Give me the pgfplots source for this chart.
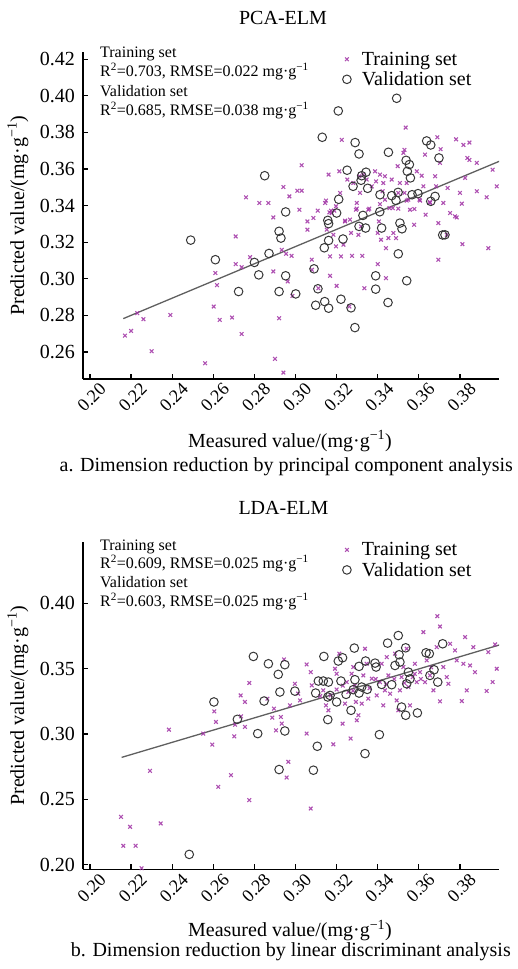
\documentclass[border=0pt]{standalone}
\usepackage{pgfplots}
\pgfplotsset{compat=1.18}
\usepackage{pgfplotstable}
\usepackage{fontspec}
\setmainfont{Liberation Serif}

\definecolor{trainc}{RGB}{160,50,165}
\definecolor{validc}{RGB}{55,55,55}
\definecolor{fitc}{RGB}{95,95,95}
\newcommand\fs[1]{\fontsize{#1bp}{#1bp}\selectfont}

% ---------------- PCA-ELM ----------------
\pgfplotstableread{
x y
0.2170 0.2689
0.2200 0.2715
0.2230 0.2812
0.2260 0.2779
0.2300 0.2604
0.2391 0.2802
0.2560 0.2538
0.2602 0.2848
0.2610 0.3031
0.2618 0.2965
0.2631 0.2775
0.2691 0.2788
0.2709 0.3231
0.2709 0.3080
0.2738 0.3063
0.2738 0.2698
0.2759 0.3445
0.2779 0.3118
0.2824 0.3414
0.2868 0.3414
0.2892 0.3335
0.2892 0.3040
0.2900 0.2562
0.2920 0.2784
0.2933 0.3158
0.2941 0.3501
0.2941 0.2487
0.2954 0.3136
0.2962 0.2985
0.2970 0.3450
0.2981 0.3125
0.2985 0.2906
0.3009 0.3481
0.3019 0.3377
0.3030 0.3620
0.3030 0.3481
0.3058 0.3313
0.3058 0.3268
0.3079 0.3104
0.3080 0.3049
0.3087 0.3332
0.3108 0.3372
0.3111 0.2948
0.3144 0.3414
0.3148 0.3427
0.3152 0.3268
0.3161 0.3569
0.3165 0.3363
0.3168 0.3122
0.3168 0.3016
0.3173 0.3372
0.3176 0.3359
0.3184 0.3240
0.3189 0.3372
0.3197 0.3177
0.3197 0.3396
0.3200 0.2961
0.3213 0.3587
0.3217 0.3469
0.3221 0.3122
0.3233 0.3186
0.3241 0.3313
0.3241 0.3317
0.3252 0.3542
0.3262 0.2848
0.3265 0.3323
0.3270 0.3250
0.3275 0.3125
0.3281 0.3523
0.3294 0.3377
0.3298 0.3383
0.3298 0.3414
0.3306 0.3240
0.3311 0.3560
0.3314 0.3469
0.3319 0.3286
0.3325 0.3125
0.3330 0.3569
0.3335 0.2948
0.3346 0.3542
0.3354 0.3377
0.3359 0.3383
0.3371 0.3505
0.3387 0.3587
0.3392 0.3532
0.3400 0.3250
0.3400 0.3080
0.3406 0.3313
0.3411 0.3569
0.3411 0.3408
0.3416 0.3213
0.3424 0.3478
0.3427 0.3523
0.3435 0.3560
0.3435 0.3432
0.3440 0.3003
0.3440 0.3167
0.3452 0.3222
0.3457 0.3386
0.3468 0.3542
0.3473 0.3386
0.3476 0.3250
0.3489 0.3222
0.3497 0.3615
0.3500 0.3469
0.3500 0.3383
0.3508 0.3523
0.3525 0.3688
0.3530 0.3469
0.3541 0.3523
0.3541 0.3427
0.3549 0.3432
0.3557 0.3377
0.3577 0.3295
0.3578 0.3381
0.3590 0.3587
0.3603 0.3432
0.3606 0.3427
0.3614 0.3563
0.3622 0.3505
0.3630 0.3678
0.3633 0.3350
0.3654 0.3414
0.3654 0.3419
0.3679 0.3560
0.3684 0.3505
0.3695 0.3104
0.3695 0.3304
0.3703 0.3633
0.3719 0.3414
0.3736 0.3240
0.3740 0.3496
0.3752 0.3359
0.3776 0.3341
0.3784 0.3335
0.3800 0.3469
0.3809 0.3410
0.3812 0.3189
0.3825 0.3551
0.3836 0.3660
0.3882 0.3633
0.3882 0.3478
0.3930 0.3445
0.3938 0.3167
0.3959 0.3596
0.3979 0.3505
0.3536 0.3826
0.3225 0.3759
0.3530 0.3704
0.3690 0.3773
0.3781 0.3762
0.3817 0.3731
0.3846 0.3744
0.3706 0.3708
0.3846 0.3649
}\pcatrain

\pgfplotstableread{
x y
0.2490 0.3211
0.2610 0.3104
0.2723 0.2930
0.2800 0.3089
0.2821 0.3021
0.2850 0.3563
0.2871 0.3138
0.2920 0.2930
0.2920 0.3259
0.2929 0.3222
0.2952 0.3016
0.2952 0.3365
0.3001 0.2917
0.3090 0.3054
0.3098 0.2855
0.3109 0.2945
0.3142 0.2875
0.3140 0.3169
0.3157 0.3319
0.3161 0.3301
0.3161 0.3209
0.3161 0.2839
0.3200 0.3359
0.3210 0.3434
0.3221 0.2888
0.3231 0.3217
0.3251 0.3593
0.3270 0.2841
0.3280 0.3505
0.3289 0.2733
0.3309 0.3682
0.3309 0.3286
0.3319 0.3538
0.3322 0.3563
0.3328 0.3346
0.3341 0.3277
0.3343 0.3582
0.3351 0.3494
0.3390 0.3016
0.3390 0.2943
0.3410 0.3366
0.3411 0.3459
0.3419 0.3277
0.3450 0.2870
0.3452 0.3691
0.3468 0.3454
0.3489 0.3428
0.3499 0.3472
0.3500 0.3136
0.3508 0.3304
0.3518 0.3273
0.3538 0.3647
0.3541 0.2989
0.3544 0.3587
0.3554 0.3624
0.3559 0.3551
0.3567 0.3459
0.3596 0.3465
0.3658 0.3423
0.3679 0.3450
0.3698 0.3660
0.3716 0.3239
0.3727 0.3240
0.3492 0.3986
0.3208 0.3917
0.3130 0.3773
0.3290 0.3744
0.3638 0.3753
0.3658 0.3731
}\pcavalid

% ---------------- LDA-ELM ----------------
\pgfplotstableread{
x y
0.2151 0.2366
0.2195 0.2290
0.2162 0.2145
0.2222 0.2145
0.2344 0.2316
0.2251 0.1973
0.2292 0.2718
0.2384 0.3033
0.2551 0.3003
0.2595 0.2919
0.2605 0.3173
0.2613 0.3092
0.2624 0.2596
0.2686 0.2685
0.2702 0.2982
0.2706 0.3071
0.2733 0.3295
0.2735 0.3135
0.2754 0.3245
0.2754 0.3054
0.2775 0.3390
0.2775 0.2494
0.2863 0.3270
0.2887 0.3125
0.2895 0.3194
0.2905 0.3028
0.2929 0.3130
0.2933 0.3079
0.2944 0.3570
0.2957 0.2667
0.2965 0.2787
0.2973 0.3219
0.2997 0.3384
0.3013 0.3308
0.3022 0.3257
0.3054 0.3003
0.3054 0.3532
0.3074 0.2430
0.3074 0.3473
0.3079 0.3372
0.3120 0.3290
0.3135 0.3334
0.3148 0.3219
0.3160 0.3181
0.3171 0.3295
0.3184 0.2921
0.3192 0.3499
0.3200 0.3461
0.3200 0.3340
0.3213 0.3614
0.3229 0.3079
0.3230 0.3370
0.3241 0.3232
0.3249 0.3397
0.3257 0.3321
0.3268 0.2965
0.3273 0.3461
0.3280 0.3330
0.3281 0.3512
0.3289 0.3372
0.3294 0.3245
0.3298 0.3105
0.3306 0.3143
0.3322 0.3232
0.3330 0.3448
0.3338 0.3652
0.3346 0.3537
0.3354 0.3270
0.3360 0.3350
0.3371 0.3423
0.3390 0.3420
0.3395 0.3295
0.3411 0.3397
0.3419 0.3537
0.3427 0.3219
0.3435 0.3334
0.3440 0.3380
0.3444 0.3588
0.3452 0.3448
0.3460 0.3308
0.3480 0.3420
0.3484 0.3614
0.3492 0.3257
0.3500 0.3181
0.3508 0.3334
0.3516 0.3435
0.3525 0.3512
0.3530 0.3390
0.3541 0.3652
0.3549 0.3359
0.3557 0.3219
0.3570 0.3435
0.3580 0.3460
0.3581 0.3537
0.3590 0.3397
0.3606 0.3473
0.3610 0.3420
0.3622 0.3779
0.3630 0.3397
0.3638 0.3563
0.3654 0.3448
0.3660 0.3510
0.3671 0.3334
0.3687 0.3664
0.3703 0.3822
0.3690 0.3901
0.3703 0.3250
0.3719 0.3512
0.3736 0.3435
0.3744 0.3384
0.3752 0.3690
0.3776 0.3639
0.3784 0.3563
0.3809 0.3252
0.3817 0.3537
0.3825 0.3741
0.3833 0.3334
0.3849 0.3524
0.3865 0.3664
0.3873 0.3473
0.3930 0.3329
0.3938 0.3626
0.3959 0.3397
0.3971 0.3685
0.3979 0.3499
}\ldatrain

\pgfplotstableread{
x y
0.2483 0.2079
0.2603 0.3245
0.2717 0.3112
0.2795 0.3593
0.2816 0.3003
0.2847 0.3252
0.2868 0.3537
0.2916 0.3456
0.2920 0.2728
0.2924 0.3321
0.2948 0.3530
0.2948 0.3023
0.2997 0.3328
0.3087 0.2723
0.3098 0.3313
0.3106 0.2906
0.3111 0.3405
0.3135 0.3405
0.3138 0.3593
0.3157 0.3110
0.3157 0.3283
0.3160 0.3397
0.3168 0.3295
0.3200 0.3245
0.3208 0.3558
0.3221 0.3405
0.3229 0.3583
0.3246 0.3303
0.3270 0.3181
0.3281 0.3339
0.3286 0.3657
0.3289 0.3415
0.3309 0.3313
0.3309 0.3517
0.3322 0.3359
0.3338 0.2850
0.3341 0.3558
0.3349 0.3341
0.3387 0.3542
0.3392 0.3512
0.3408 0.2995
0.3419 0.3379
0.3448 0.3695
0.3468 0.3377
0.3484 0.3524
0.3500 0.3753
0.3504 0.3606
0.3508 0.3550
0.3516 0.3206
0.3536 0.3143
0.3541 0.3384
0.3549 0.3473
0.3557 0.3422
0.3536 0.3659
0.3593 0.3161
0.3635 0.3621
0.3651 0.3614
0.3654 0.3448
0.3674 0.3491
0.3692 0.3397
0.3716 0.3690
}\ldavalid

\pgfplotsset{
  panel/.style={
    scale only axis, width=416bp, height=327bp,
    anchor=south west,
    axis x line*=bottom, axis y line*=left,
    axis line style={line width=1.5bp, black},
    tick style={line width=1.2bp, black},
    major tick length=5bp,
    tick align=inside,
    xmin=0.1966, xmax=0.3990,
    xtick={0.20,0.22,0.24,0.26,0.28,0.30,0.32,0.34,0.36,0.38},
    xticklabel={\pgfmathprintnumber[fixed,fixed zerofill,precision=2,assume math mode=true]{\tick}},
    yticklabel={\pgfmathprintnumber[fixed,fixed zerofill,precision=2,assume math mode=true]{\tick}},
    xticklabel style={font=\fs{18}, rotate=45, anchor=north east, inner sep=0pt, yshift=-8bp, xshift=4bp},
    yticklabel style={font=\fs{20}, anchor=east, inner sep=0pt, xshift=-8bp},
    legend style={draw=none, fill=white, inner sep=3bp, font=\fs{20},
      anchor=north west, row sep=5bp,
      nodes={inner sep=0pt},
      /tikz/every odd column/.append style={column sep=9bp}},
    legend cell align=left,
    legend image code/.code={%
      \path[draw=none, fill=none] (-6bp,-3bp) rectangle (6bp,3bp);
      \draw[##1] plot coordinates {(0bp,0bp)};},
  },
  train/.style={only marks, mark=x, mark size=2.6bp,
    mark options={draw=trainc, line width=1.1bp, draw opacity=0.85}},
  valid/.style={only marks, mark=o, mark size=4.3bp,
    mark options={draw=validc, line width=1bp, fill=none}},
  fit/.style={fitc, line width=1.3bp, no marks},
}

\begin{document}
\begin{tikzpicture}
\useasboundingbox (0bp,0bp) rectangle (518bp,-969bp);

% ----- panel a -----
\begin{axis}[panel, at={(83bp,-379bp)},
  ymin=0.2452, ymax=0.4239,
  ytick={0.26,0.28,0.30,0.32,0.34,0.36,0.38,0.40,0.42},
  legend style={at={(axis description cs:0.6123,1.0101)}}]
\addplot[train] table {\pcatrain};
\addplot[valid] table {\pcavalid};
\addplot[fit] coordinates {(0.2162,0.2782) (0.3992,0.3642)};
\legend{Training set, Validation set}
\end{axis}

\node[anchor=base, font=\fs{20}] at (283bp,-24bp) {PCA-ELM};
\node[anchor=base west, inner sep=0pt, font=\fs{16}] at (100bp,-57.7bp) {Training set};
\node[anchor=base west, inner sep=0pt, font=\fs{16}] at (100bp,-76.7bp) {R\textsuperscript{2}=0.703, RMSE=0.022 mg·g\textsuperscript{−1}};
\node[anchor=base west, inner sep=0pt, font=\fs{16}] at (100bp,-96.7bp) {Validation set};
\node[anchor=base west, inner sep=0pt, font=\fs{16}] at (100bp,-115.7bp) {R\textsuperscript{2}=0.685, RMSE=0.038 mg·g\textsuperscript{−1}};
\node[rotate=90, font=\fs{20}] at (18bp,-215.5bp) {Predicted value/(mg·g\textsuperscript{−1})};
\node[anchor=base, font=\fs{20}] at (290bp,-447.3bp) {Measured value/(mg·g\textsuperscript{−1})};
\node[anchor=base, font=\fs{20}] at (286.3bp,-471.7bp) {a. Dimension reduction by principal component analysis};

% ----- panel b -----
\begin{axis}[panel, at={(83bp,-869.3bp)},
  ymin=0.1965, ymax=0.4466,
  ytick={0.20,0.25,0.30,0.35,0.40},
  legend style={at={(axis description cs:0.6123,1.0092)}}]
\addplot[train] table {\ldatrain};
\addplot[valid] table {\ldavalid};
\addplot[fit] coordinates {(0.2154,0.2821) (0.3992,0.3681)};
\legend{Training set, Validation set}
\end{axis}

\node[anchor=base, font=\fs{20}] at (283.5bp,-514bp) {LDA-ELM};
\node[anchor=base west, inner sep=0pt, font=\fs{16}] at (100bp,-550bp) {Training set};
\node[anchor=base west, inner sep=0pt, font=\fs{16}] at (100bp,-568.3bp) {R\textsuperscript{2}=0.609, RMSE=0.025 mg·g\textsuperscript{−1}};
\node[anchor=base west, inner sep=0pt, font=\fs{16}] at (100bp,-587.7bp) {Validation set};
\node[anchor=base west, inner sep=0pt, font=\fs{16}] at (100bp,-606.7bp) {R\textsuperscript{2}=0.603, RMSE=0.025 mg·g\textsuperscript{−1}};
\node[rotate=90, font=\fs{20}] at (18bp,-705.5bp) {Predicted value/(mg·g\textsuperscript{−1})};
\node[anchor=base, font=\fs{20}] at (290bp,-936.7bp) {Measured value/(mg·g\textsuperscript{−1})};
\node[anchor=base, font=\fs{20}] at (290.8bp,-956bp) {b. Dimension reduction by linear discriminant analysis};
\end{tikzpicture}
\end{document}
